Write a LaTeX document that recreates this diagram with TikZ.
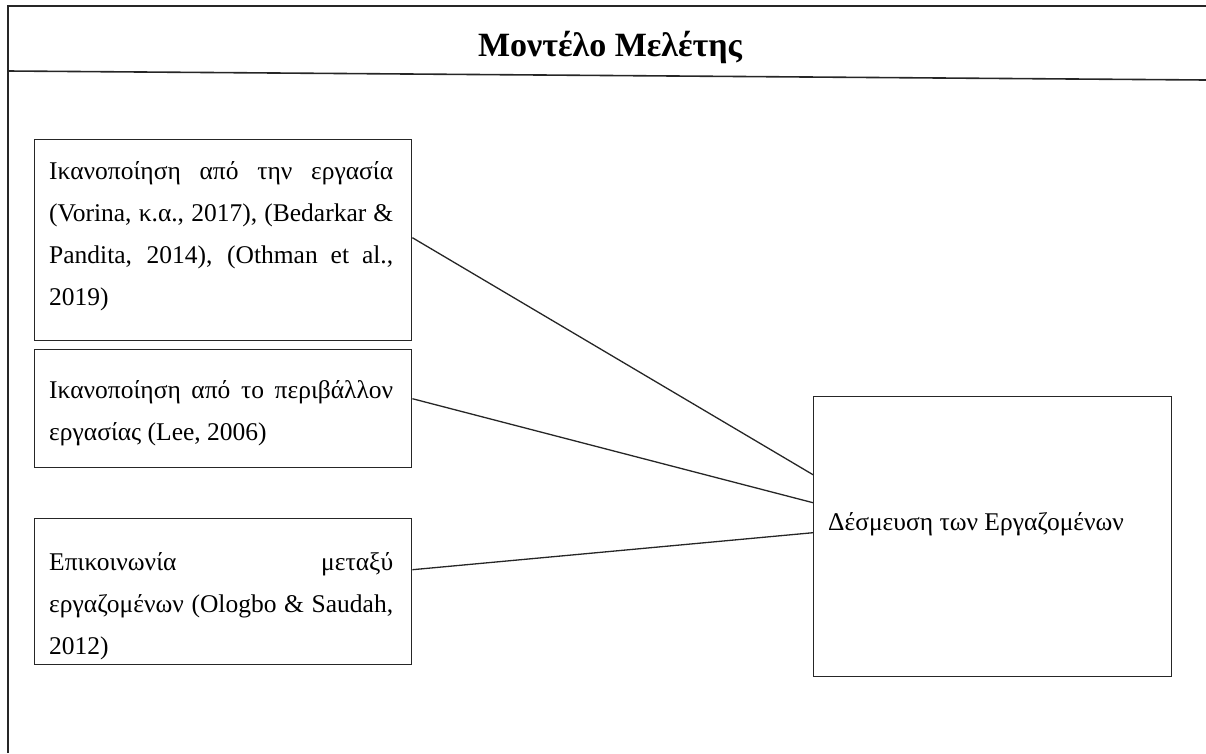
\documentclass[tikz,border=0pt]{standalone}
\usepackage{fontspec}
\setmainfont{Liberation Serif}
\begin{document}
\begin{tikzpicture}[x=1pt,y=-1pt,
  frame/.style={line width=1.6pt, draw=black!85},
  box/.style={draw=black!85, line width=1.4pt, inner sep=0pt, anchor=north west},
  link/.style={draw=black!85, line width=1.3pt},
  txt/.style={inner sep=0pt, anchor=base west, align=left, font=\fontsize{25.5}{42}\selectfont}
]
\useasboundingbox (0,0) rectangle (1206,753);
\draw[frame] (8,753) -- (8,6) -- (1206,6);
\draw[frame] (8,71) -- (1206,80);
\node[font=\fontsize{34}{40}\selectfont\bfseries, anchor=base, inner sep=0pt] (title) at (610,56) {Μοντέλο Μελέτης};

\node[box, minimum width=377pt, minimum height=201pt] (b1) at (34,139) {};
\node[box, minimum width=377pt, minimum height=118pt] (b2) at (34,349) {};
\node[box, minimum width=377pt, minimum height=146pt] (b3) at (34,518) {};
\node[box, minimum width=358pt, minimum height=280pt] (b4) at (813,396) {};

\node[txt] (t1) at (49,305) {\makebox[344pt][s]{Ικανοποίηση από την εργασία}\\
\makebox[344pt][s]{(Vorina, κ.α., 2017), (Bedarkar \&}\\
\makebox[344pt][s]{Pandita, 2014), (Othman et al.,}\\
2019)};
\node[txt] (t2) at (49,440) {\makebox[344pt][s]{Ικανοποίηση από το περιβάλλον}\\
εργασίας (Lee, 2006)};
\node[txt] (t3) at (49,654) {\makebox[344pt][s]{Επικοινωνία μεταξύ}\\
\makebox[344pt][s]{εργαζομένων (Ologbo \& Saudah,}\\
2012)};
\node[txt] (t4) at (828,530) {Δέσμευση των Εργαζομένων};

\draw[link] ([yshift=2.5pt]b1.east) -- ([yshift=62pt]b4.west);
\draw[link] ([yshift=10pt]b2.east) -- ([yshift=34pt]b4.west);
\draw[link] ([yshift=22pt]b3.east) -- ([yshift=4pt]b4.west);
\end{tikzpicture}
\end{document}
